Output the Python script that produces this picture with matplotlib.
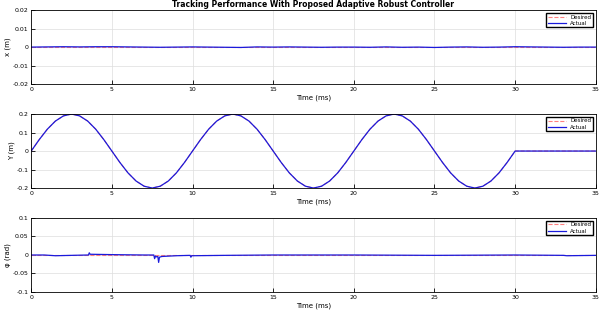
import matplotlib.pyplot as plt

# time axis (ms)
t_x = [0, 1, 2, 3, 4, 5, 6, 7, 8, 9, 10, 11, 12, 13, 14, 15, 16, 17, 18,
       19, 20, 21, 22, 23, 24, 25, 26, 27, 28, 29, 30, 31, 32, 33, 34, 35]
x_des = [0.0] * len(t_x)
x_act = [0.0, 0.0001, 0.0002, 0.0001, 0.0002, 0.0002, 0.0001, 0.0, -0.0001,
         0.0, 0.0001, 0.0, -0.0001, -0.0002, 0.0001, 0.0, 0.0001, 0.0, -0.0001,
         0.0, 0.0, -0.0001, 0.0001, -0.0001, 0.0, -0.0002, 0.0, 0.0001, -0.0001,
         0.0, 0.0002, 0.0001, 0.0, -0.0001, 0.0, 0.0]

t_y = [0, 0.5, 1, 1.5, 2, 2.5, 3, 3.5, 4, 4.5, 5, 5.5, 6, 6.5, 7, 7.5, 8, 8.5, 9, 9.5,
       10, 10.5, 11, 11.5, 12, 12.5, 13, 13.5, 14, 14.5, 15, 15.5, 16, 16.5, 17, 17.5,
       18, 18.5, 19, 19.5, 20, 20.5, 21, 21.5, 22, 22.5, 23, 23.5, 24, 24.5, 25, 25.5,
       26, 26.5, 27, 27.5, 28, 28.5, 29, 29.5, 30, 35]
y_des = [0.0, 0.062, 0.118, 0.162, 0.190, 0.200, 0.190, 0.162, 0.118, 0.062,
         0.0, -0.062, -0.118, -0.162, -0.190, -0.200, -0.190, -0.162, -0.118, -0.062,
         0.0, 0.062, 0.118, 0.162, 0.190, 0.200, 0.190, 0.162, 0.118, 0.062,
         0.0, -0.062, -0.118, -0.162, -0.190, -0.200, -0.190, -0.162, -0.118, -0.062,
         0.0, 0.062, 0.118, 0.162, 0.190, 0.200, 0.190, 0.162, 0.118, 0.062,
         0.0, -0.062, -0.118, -0.162, -0.190, -0.200, -0.190, -0.162, -0.118, -0.062,
         0.0, 0.0]
y_act = y_des

t_phi = [0, 0.8, 1.5, 3.0, 3.55, 3.6, 3.65, 5, 7.0, 7.6, 7.65, 7.7, 7.75, 7.85,
         7.9, 7.95, 8.1, 9.0, 9.85, 9.9, 9.95, 12, 15, 20, 25, 30, 33, 33.2, 35]
phi_des = [0.0] * len(t_phi)
phi_act = [0.0, 0.0, -0.002, -0.0005, 0.0, 0.006, 0.002, 0.001, 0.0, 0.0, -0.01,
           -0.003, -0.005, -0.004, -0.02, -0.006, -0.004, -0.002, -0.001, -0.006,
           -0.002, -0.001, 0.0, 0.0, -0.001, 0.0, -0.001, -0.002, -0.001]

fig = plt.figure(figsize=(6, 3.15), dpi=100)
tops = [0.968, 0.638, 0.308]
h = 0.235
panels = [(t_x, x_des, x_act, 'x (m)', (-0.02, 0.02), [-0.02, -0.01, 0, 0.01, 0.02]),
          (t_y, y_des, y_act, 'Y (m)', (-0.2, 0.2), [-0.2, -0.1, 0, 0.1, 0.2]),
          (t_phi, phi_des, phi_act, '\u03c6 (rad)', (-0.1, 0.1), [-0.1, -0.05, 0, 0.05, 0.1])]

for i, (t, des, act, lab, lim, ticks) in enumerate(panels):
    ax = fig.add_axes([0.052, tops[i] - h, 0.941, h])
    ax.plot(t, des, '--', color='#ff8080', lw=0.8, label='Desired')
    ax.plot(t, act, '-', color='#1a1adc', lw=0.9, label='Actual')
    ax.set_xlim(0, 35)
    ax.set_ylim(*lim)
    ax.set_yticks(ticks)
    ax.set_yticklabels([('%g' % v) for v in ticks])
    ax.set_xticks([0, 5, 10, 15, 20, 25, 30, 35])
    ax.grid(True, color='#dddddd', lw=0.5)
    ax.tick_params(direction='in', labelsize=4.5, length=3, width=0.6, pad=2,
                   top=False, right=False)
    for s in ax.spines.values():
        s.set_linewidth(0.6)
    ax.set_xlabel('Time (ms)', fontsize=5, labelpad=2)
    ax.set_ylabel(lab, fontsize=5, labelpad=1)
    ax.legend(loc='upper right', fontsize=4, handlelength=3.2, borderpad=0.3,
              labelspacing=0.2, fancybox=False, edgecolor='black', framealpha=1)
    if i == 0:
        ax.set_title('Tracking Performance With Proposed Adaptive Robust Controller',
                     fontsize=5.5, fontweight='bold', pad=2)

fig.savefig('out.png', dpi=100)
